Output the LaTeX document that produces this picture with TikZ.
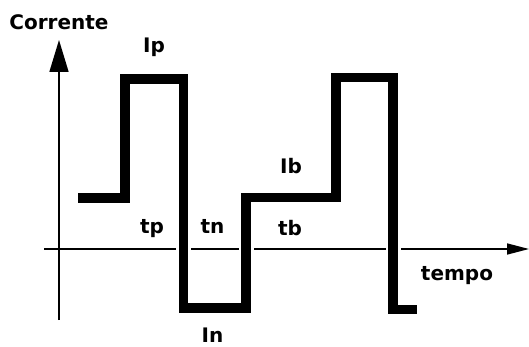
\documentclass[tikz,border=0pt]{standalone}
\usepackage{fontspec}
\setsansfont{DejaVu Sans}
\usetikzlibrary{arrows.meta}

\begin{document}
\begin{tikzpicture}[
  x=1pt, y=-1pt,
  every node/.style={font=\sffamily\bfseries\fontsize{20}{20}\selectfont, inner sep=0pt, anchor=base},
  axisline/.style={draw=black, line width=1.6pt},
  wavehalo/.style={draw=white, line width=15pt},
  waveline/.style={draw=black, line width=9.5pt, line join=miter},
]
\useasboundingbox (0,0) rectangle (529,347);

% === AXES ===
\coordinate (yfoot) at (59,320);
\coordinate (ytip) at (59,40);
\coordinate (xfoot) at (44,249);
\coordinate (xtip) at (529,249);
\draw[axisline, -{Triangle[length=32pt, width=19pt]}] (yfoot) -- (ytip);
\draw[axisline, -{Triangle[length=22pt, width=11pt]}] (xfoot) -- (xtip);

% === PULSED CURRENT (halo first, so the axis is cut) ===
\path[wavehalo] (78,198) -| (125,79) -| (183.5,308) -| (246,197.5) -| (336,77.5) -| (393,309.5) -- (417,309.5);
\path[waveline] (78,198) -| (125,79) -| (183.5,308) -| (246,197.5) -| (336,77.5) -| (393,309.5) -- (417,309.5);

% === LABELS ===
\node (corrente) at (59,30) {Corrente};
\node (tempo) at (457,280) {tempo};
\node (ip) at (154,53) {Ip};
\node (ib) at (291,174) {Ib};
\node (in) at (212.5,342) {In};
\node (tp) at (152,233) {tp};
\node (tn) at (212.5,233) {tn};
\node (tb) at (290,235) {tb};

\end{tikzpicture}
\end{document}
